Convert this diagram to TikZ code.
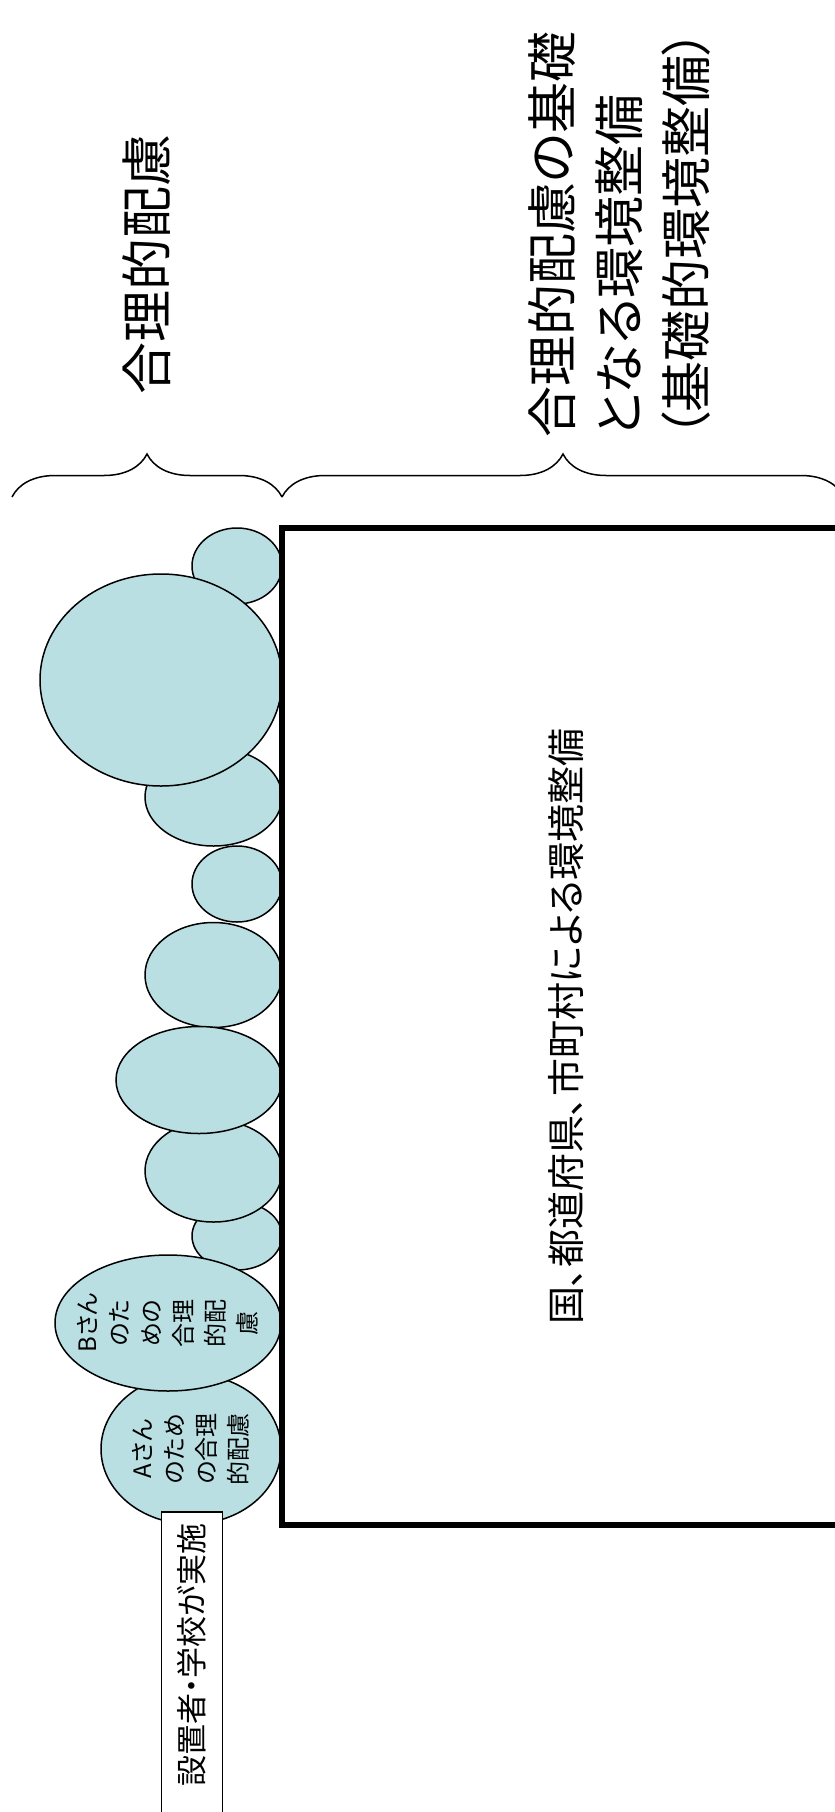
\documentclass[tikz,border=0pt]{standalone}
\usepackage{fontspec}
\setmainfont{Noto Sans CJK JP}[RawFeature=+palt]
\usetikzlibrary{shapes.geometric,decorations.pathreplacing}
\definecolor{bubblecol}{RGB}{185,223,226}
\pgfdeclarelayer{bg}
\pgfsetlayers{bg,main}
\tikzset{
    every node/.style={inner sep=0mm},
    bubble/.style={ellipse, draw, fill=bubblecol, line width=1.5pt},
    bubtext/.style={rotate=90, align=center, font=\fontsize{24}{32}\selectfont},
    govbox/.style={rectangle, draw, line width=5.5pt, fill=white, rotate=90},
    schoolbox/.style={rectangle, draw, line width=1.5pt, fill=white, rotate=90},
    bracket/.style={decorate, decoration={brace, amplitude=43pt}, line width=1.5pt}
}

\begin{document}
\begin{tikzpicture}[x=1pt, y=-1pt]
    \useasboundingbox (0, 0) rectangle (835, 1812);

    \node (hdrA) [rotate=90, font=\fontsize{52}{60}\selectfont] at (147, 264) {合理的配慮};
    \node (hdrB) [rotate=90, align=left, anchor=north west, font=\fontsize{51}{67}\selectfont] at (528, 438)
        {合理的配慮の基礎\\となる環境整備\\（基礎的環境整備）};

    \coordinate (bl) at (12, 497);
    \coordinate (bm) at (282, 497);
    \coordinate (br) at (844, 497);
    \draw[bracket] (bl) -- (bm);
    \draw[bracket] (bm) -- (br);

    \begin{pgfonlayer}{bg}
        \node (c1) [bubble, minimum width=90, minimum height=76] at (237, 566) {};
        \node (c3) [bubble, minimum width=137, minimum height=98] at (213.5, 797) {};
        \node (c2) [bubble, minimum width=242, minimum height=212] at (161, 680) {};
        \node (c4) [bubble, minimum width=90, minimum height=76] at (237, 884) {};
        \node (c5) [bubble, minimum width=137, minimum height=105] at (213.5, 975) {};
        \node (c8) [bubble, minimum width=90, minimum height=68] at (237, 1236) {};
        \node (c7) [bubble, minimum width=137, minimum height=102] at (213.5, 1171) {};
        \node (c6) [bubble, minimum width=166, minimum height=107] at (199, 1080) {};
        \node (cA) [bubble, minimum width=180, minimum height=150] at (191, 1449) {};
        \node (cB) [bubble, minimum width=226, minimum height=136] at (168, 1323) {};
    \end{pgfonlayer}

    \node (tA) [bubtext] at (cA) {Aさん\\のため\\の合理\\的配慮};
    \node (tB) [bubtext] at (cB) {Bさん\\のた\\めの\\合理\\的配\\慮};

    \node (gov) [govbox, minimum width=997, minimum height=568, font=\fontsize{38}{42}\selectfont] at (566, 1026.5)
        {国、都道府県、市町村による環境整備};

    \node (school) [schoolbox, anchor=east, minimum width=330, minimum height=61, inner xsep=12pt,
        text width=306pt, align=right, font=\fontsize{31}{36}\selectfont] at (192, 1511) {設置者・学校が実施};
\end{tikzpicture}
\end{document}
